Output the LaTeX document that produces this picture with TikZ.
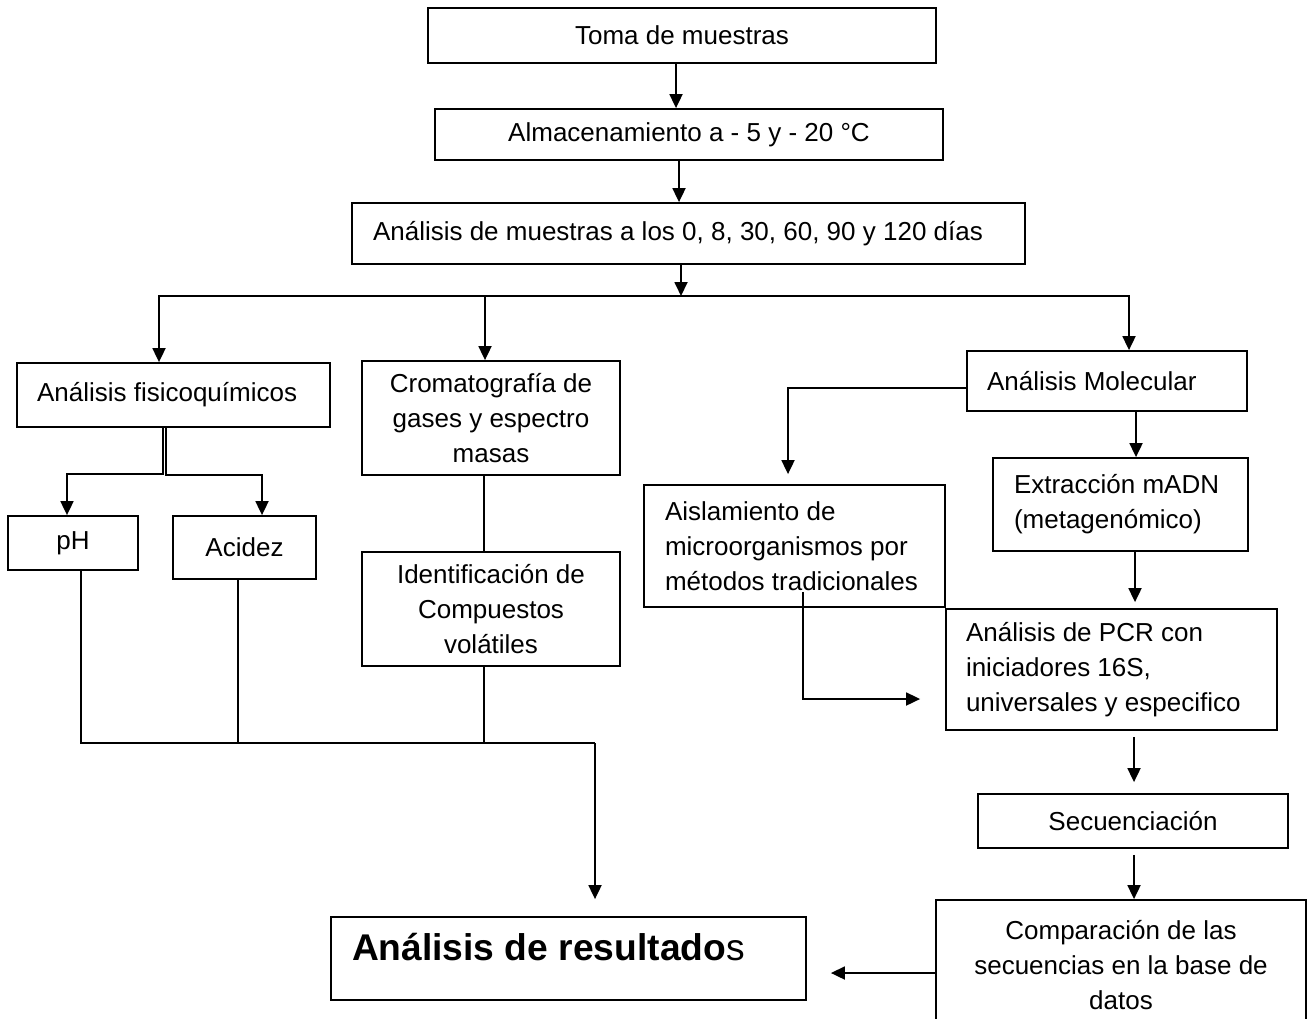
\documentclass[tikz,border=0pt]{standalone}
\usepackage{fontspec}
\setmainfont{Liberation Sans}
\usepackage{tikz}
\usetikzlibrary{arrows.meta, positioning, calc}

\begin{document}
\begin{tikzpicture}[
  x=0.5pt, y=-0.5pt,
  font=\fontsize{13}{17.5}\selectfont,
  box/.style   = {draw, line width=0.9pt, align=center, inner sep=0pt},
  lbox/.style  = {draw, line width=0.9pt, align=flush left, inner ysep=0pt},
  link/.style  = {line width=0.9pt},
  arr/.style   = {-{Triangle[length=7pt,width=6.5pt]}, line width=0.9pt},
]
\useasboundingbox (0,0) rectangle (1309,1018);
\clip (0,0) rectangle (1309,1018);

%% Top chain
\node[box, minimum width=254pt, minimum height=27.5pt] (toma) at (682, 35.5)
     {Toma de muestras};
\node[box, minimum width=254pt, minimum height=25.5pt] (almac) at (689, 134.5)
     {Almacenamiento a - 5 y - 20 °C};
\node[lbox, inner xsep=10.5pt, text width=315.5pt, minimum height=30.5pt] (muestras) at (688.5, 233.5)
     {Análisis de muestras a los 0, 8, 30, 60, 90 y 120 días};

\draw[arr] ([xshift=-3pt]toma.south) -- ([xshift=-3pt]toma.south |- almac.north);
\draw[arr] ([xshift=-5pt]almac.south) -- ([xshift=-5pt]almac.south |- muestras.north);

%% Three branches
\node[lbox, inner xsep=10pt, text width=136.5pt, minimum height=32pt] (fisico) at (173.5, 395)
     {Análisis fisicoquímicos};
\node[box, minimum width=129pt, minimum height=57pt] (croma) at (491, 418)
     {Cromatografía de\\ gases y espectro\\ masas};
\node[lbox, inner xsep=10pt, text width=120pt, minimum height=30pt] (molec) at (1107, 381)
     {Análisis Molecular};

\coordinate (split) at (681, 296);
\draw[arr] (681,0 |- muestras.south) -- (split);
\draw[arr] (split) -| (159,0 |- fisico.north);
\draw[arr] (split) -| (485,0 |- croma.north);
\draw[arr] (split) -| (1129,0 |- molec.north);

%% Physico-chemical
\node[box, minimum width=65pt, minimum height=27pt] (ph) at (73, 543) {pH};
\node[box, minimum width=71.5pt, minimum height=31.5pt] (acidez) at (244.5, 547.5) {Acidez};

\draw[arr] (163,0 |- fisico.south) -- (163,474) -| (67,0 |- ph.north);
\draw[arr] (166,0 |- fisico.south) -- (166,475) -| (262,0 |- acidez.north);

%% Volatiles
\node[box, minimum width=129pt, minimum height=57pt] (ident) at (491, 609)
     {Identificación de\\ Compuestos\\ volátiles};
\draw[link] (484,0 |- croma.south) -- (484,0 |- ident.north);

%% Molecular
\node[lbox, inner xsep=10.5pt, text width=129.5pt, minimum height=61pt] (aisla) at (794.5, 546)
     {Aislamiento de\\ microorganismos por\\ métodos tradicionales};
\node[lbox, inner xsep=10.5pt, text width=106.5pt, minimum height=46.5pt] (extrac) at (1120.5, 504.5)
     {Extracción mADN\\ (metagenómico)};
\node[lbox, inner xsep=10pt, text width=145.5pt, minimum height=60.5pt] (pcr) at (1111.5, 669.5)
     {Análisis de PCR con\\ iniciadores 16S,\\ universales y especifico};
\node[box, minimum width=155pt, minimum height=27pt] (secuen) at (1133, 821)
     {Secuenciación};
\node[box, minimum width=185pt, minimum height=65pt] (compar) at (1121, 965)
     {Comparación de las\\ secuencias en la base de\\ datos};

\draw[arr, shorten >=5pt] ([yshift=-3.5pt]molec.west) -| (788,0 |- aisla.north);
\draw[arr] (1136,0 |- molec.south) -- (1136,0 |- extrac.north);
\draw[arr, shorten >=3pt] (1135,0 |- extrac.south) -- (1135,0 |- pcr.north);
\draw[arr, shorten >=12.5pt] ([yshift=8pt]aisla.south -| 803,0) |- (pcr.west |- 0,699);
\draw[arr, shorten <=3pt, shorten >=5.5pt] (1134,0 |- pcr.south) -- (1134,0 |- secuen.north);
\draw[arr, shorten <=3pt] (1134,0 |- secuen.south) -- (1134,0 |- compar.north);

%% Results
\node[lbox, inner xsep=10.5pt, text width=216.5pt, text height=21.5pt, text depth=20pt] (result) at (568.5, 958.5)
     {{\fontsize{18.6}{22}\selectfont\bfseries Análisis de resultado}{\fontsize{18.6}{22}\selectfont s}};

\coordinate (join) at (595, 743);
\draw[link] (81,0 |- ph.south) |- (join);
\draw[link] (238,0 |- acidez.south) -- (238,743);
\draw[link] (484,0 |- ident.south) -- (484,743);
\draw[arr, shorten >=8.5pt] (join) -- (595,0 |- result.north);
\draw[arr, shorten >=12pt] (compar.west |- 0,973) -- (result.east |- 0,973);

\end{tikzpicture}
\end{document}
